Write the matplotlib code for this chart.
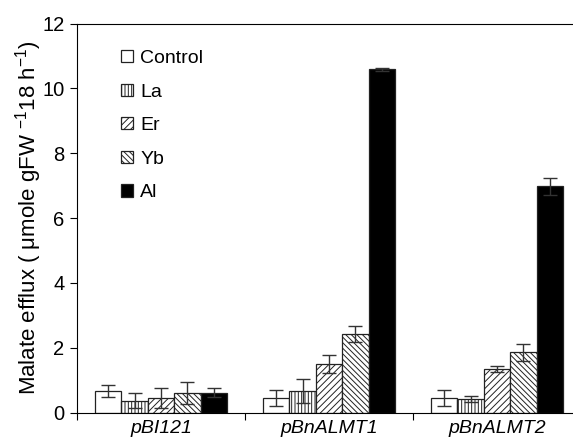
import numpy as np
import matplotlib.pyplot as plt

plt.rcParams['font.family'] = ['Liberation Sans', 'DejaVu Sans']
plt.rcParams['mathtext.fontset'] = 'custom'
plt.rcParams['mathtext.rm'] = 'Liberation Sans'
plt.rcParams['hatch.linewidth'] = 0.7

groups = ['pBI121', 'pBnALMT1', 'pBnALMT2']
treatments = ['Control', 'La', 'Er', 'Yb', 'Al']

# mean malate efflux per treatment, one list per construct order
control = [0.66, 0.45, 0.45]
la = [0.37, 0.67, 0.42]
er = [0.44, 1.50, 1.35]
yb = [0.61, 2.42, 1.86]
al = [0.61, 10.59, 6.98]

control_err = [0.18, 0.25, 0.25]
la_err = [0.23, 0.37, 0.09]
er_err = [0.31, 0.29, 0.09]
yb_err = [0.34, 0.25, 0.26]
al_err = [0.14, 0.05, 0.27]

means = [control, la, er, yb, al]
errs = [control_err, la_err, er_err, yb_err, al_err]
colors = ['white', 'white', 'white', 'white', 'black']
hatches = ['', '|||||', '/////', '\\\\\\\\\\\\', '']

fig = plt.figure(figsize=(5.73, 4.42), dpi=100)
ax = fig.add_axes([0.1344, 0.0663, 0.8796, 0.8805])

x = np.arange(len(groups)) + 0.5
w = 0.157
for i in range(len(treatments)):
    pos = x + (i - 2) * w
    ax.bar(pos, means[i], w, color=colors[i], edgecolor='#222222',
           linewidth=0.9, hatch=hatches[i], label=treatments[i])
    ax.errorbar(pos, means[i], yerr=errs[i], fmt='none', ecolor='#333333',
                elinewidth=1.0, capsize=5, capthick=1.0)

ax.set_xlim(0, 3)
ax.set_ylim(0, 12)
ax.set_yticks([0, 2, 4, 6, 8, 10, 12])
ax.set_xticks([0, 1, 2, 3])
ax.set_xticklabels([])
ax.set_xticks(x, minor=True)
ax.set_xticklabels(groups, minor=True, fontstyle='italic', fontsize=14)
ax.tick_params(axis='x', which='minor', length=0, pad=5)
ax.tick_params(axis='x', which='major', length=5, direction='out')
ax.tick_params(axis='y', labelsize=14.5, length=5, direction='out', pad=4)
ax.spines['right'].set_visible(False)

ax.set_ylabel('Malate efflux ( \u03bcmole gFW $^{\\mathrm{-1}}$18 h$^{\\mathrm{-1}}$)',
              fontsize=16, labelpad=-1)

ax.legend(loc='upper left', bbox_to_anchor=(0.087, 0.932), frameon=False,
          fontsize=14, handlelength=0.6, handleheight=0.6, borderpad=0,
          borderaxespad=0, handletextpad=0.4, labelspacing=0.85)

plt.savefig('out.png')
